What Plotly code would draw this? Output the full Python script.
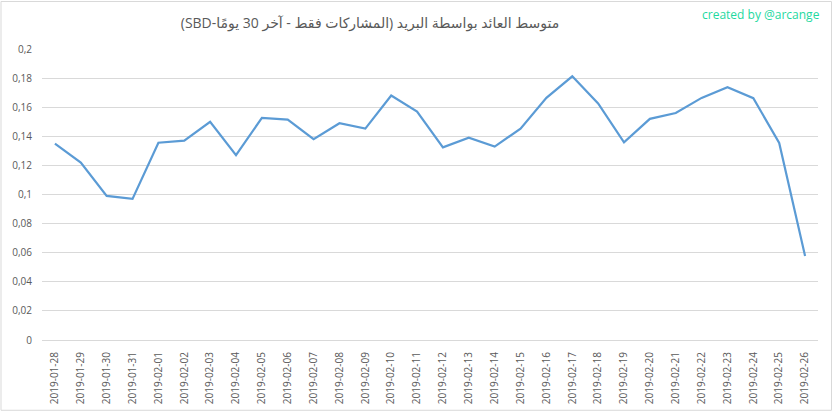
import plotly.graph_objects as go

# data
dates = [
    "2019-01-28", "2019-01-29", "2019-01-30", "2019-01-31", "2019-02-01",
    "2019-02-02", "2019-02-03", "2019-02-04", "2019-02-05", "2019-02-06",
    "2019-02-07", "2019-02-08", "2019-02-09", "2019-02-10", "2019-02-11",
    "2019-02-12", "2019-02-13", "2019-02-14", "2019-02-15", "2019-02-16",
    "2019-02-17", "2019-02-18", "2019-02-19", "2019-02-20", "2019-02-21",
    "2019-02-22", "2019-02-23", "2019-02-24", "2019-02-25", "2019-02-26",
]
avg_payout = [
    0.135, 0.122, 0.099, 0.097, 0.1356,
    0.137, 0.150, 0.127, 0.1526, 0.1515,
    0.138, 0.149, 0.1453, 0.168, 0.157,
    0.1324, 0.139, 0.1329, 0.1453, 0.1664,
    0.1812, 0.1626, 0.1358, 0.152, 0.156,
    0.1664, 0.1737, 0.1662, 0.1354, 0.0578,
]
y_ticks = [0, 0.02, 0.04, 0.06, 0.08, 0.1, 0.12, 0.14, 0.16, 0.18, 0.2]
y_tick_text = ["0", "0,02", "0,04", "0,06", "0,08", "0,1", "0,12", "0,14", "0,16", "0,18", "0,2"]

# RLE ... PDF so the title is laid out right-to-left
title = "\u202bمتوسط العائد بواسطة البريد (المشاركات فقط - آخر 30 يومًا-SBD)\u202c"

fig = go.Figure()
fig.add_trace(go.Scatter(
    x=dates, y=avg_payout, mode="lines",
    line=dict(color="#5B9BD5", width=2.2),
    hoverinfo="x+y",
))

fig.update_layout(
    width=833, height=416,
    margin=dict(l=42, r=15, t=49, b=73),
    paper_bgcolor="white", plot_bgcolor="white",
    font=dict(family="Open Sans, DejaVu Sans, sans-serif", color="#595959", size=10),
    showlegend=False,
    title=dict(text=title, x=370 / 833, xanchor="center", y=1 - 23 / 416, yanchor="middle",
               font=dict(size=14, color="#595959")),
)
fig.update_xaxes(
    type="category", range=[-0.5, len(dates) - 0.5],
    tickangle=-90, showgrid=False, showline=True, linecolor="#D9D9D9",
    ticks="", tickfont=dict(size=10, color="#595959"), ticklabelstandoff=7,
)
fig.update_yaxes(
    range=[0, 0.2], tickvals=y_ticks, ticktext=y_tick_text,
    showgrid=True, gridcolor="#D9D9D9", gridwidth=1, zeroline=False,
    ticks="", tickfont=dict(size=10, color="#595959"), ticklabelstandoff=9,
)

# outer chart border
fig.add_shape(type="rect", xref="paper", yref="paper",
              x0=-41 / 776, x1=789.5 / 776, y0=-71 / 294, y1=342 / 294,
              line=dict(color="#D9D9D9", width=1), fillcolor="rgba(0,0,0,0)", layer="below")

fig.add_annotation(text="created by @arcange", xref="paper", yref="paper",
                   x=(822 - 42) / 776, y=(343 - 14) / 294, xanchor="right", yanchor="middle",
                   showarrow=False, font=dict(size=12, color="#1ED9A0"))

fig.write_html("out.html", config={"displayModeBar": False},
               post_script="document.body.style.margin='0';")
